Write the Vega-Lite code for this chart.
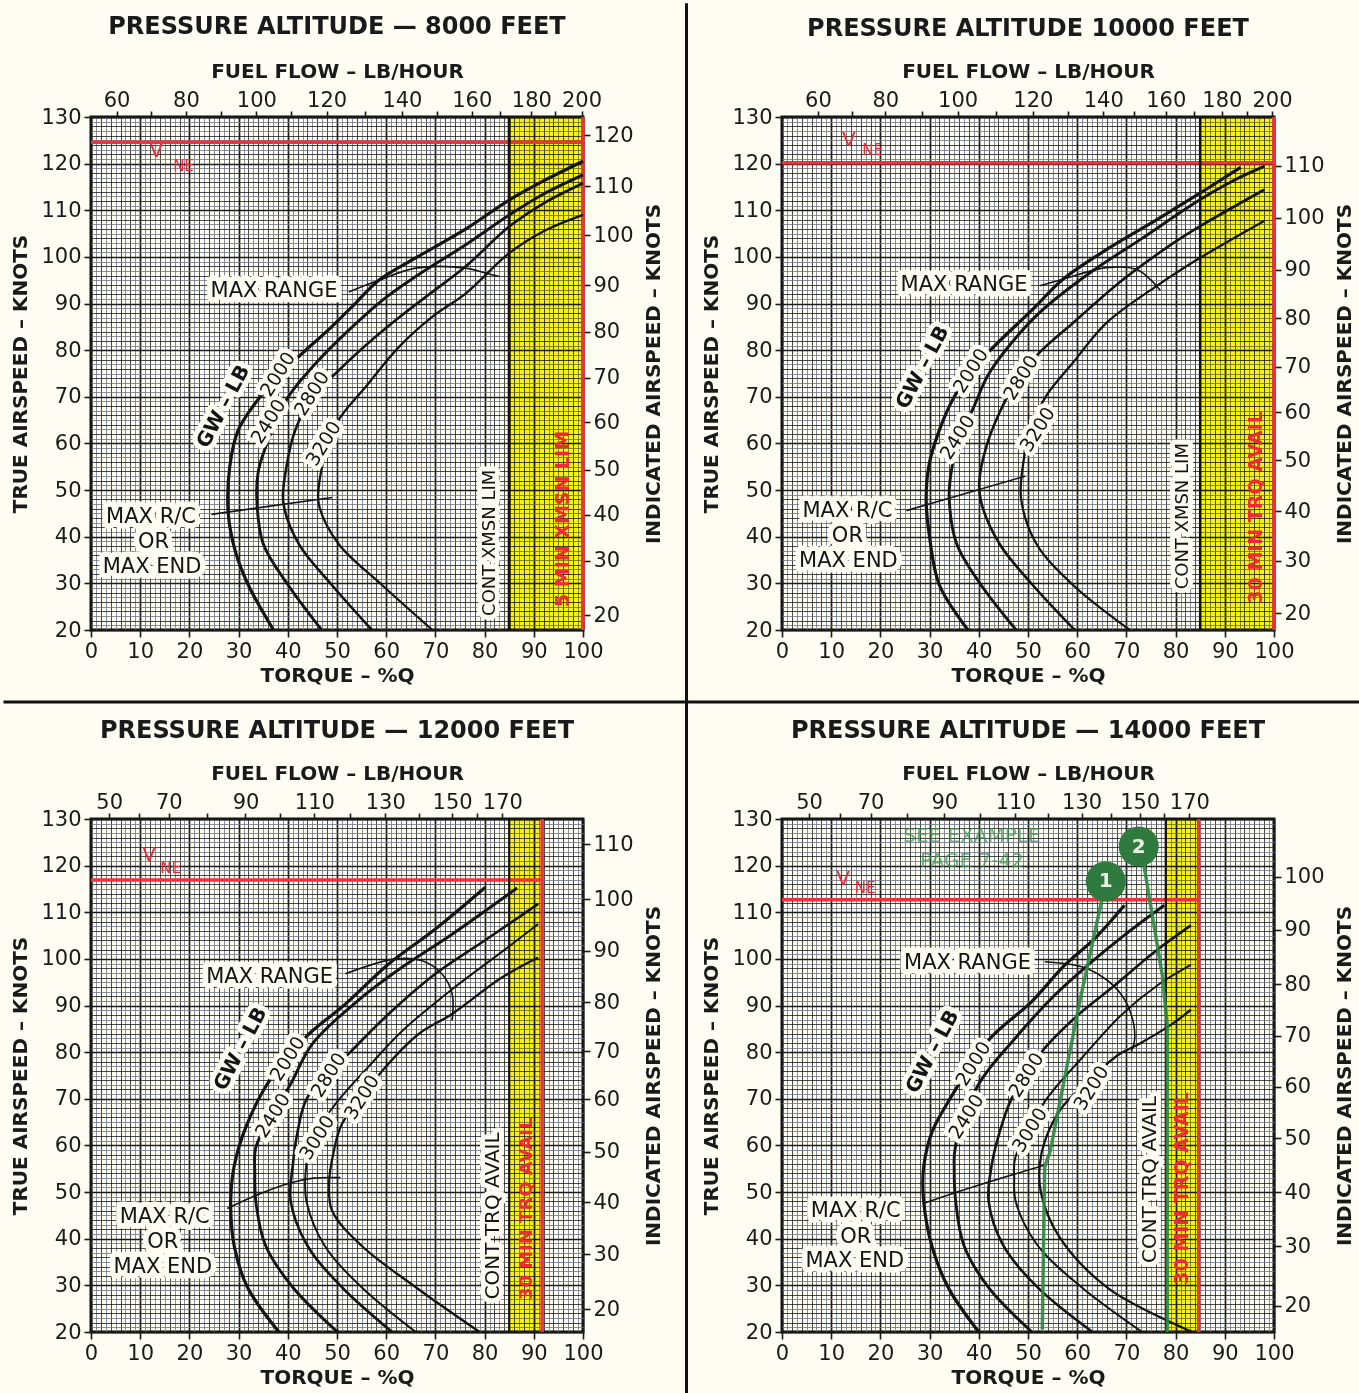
{
"$schema":"https://vega.github.io/schema/vega-lite/v6.json",
"bounds":"flush",
"columns":2,
"spacing":{"row":189,"column":199},
"padding":0,
"datasets":{
"y1":[{"q":85,"q2":100,"t":20,"t2":130}],
"y2":[{"q":85,"q2":100,"t":20,"t2":130}],
"y3":[{"q":85,"q2":91.7,"t":20,"t2":130}],
"y4":[{"q":78,"q2":84.7,"t":20,"t2":130}],
"red1":[{"q":0,"q2":100,"t":124.6,"t2":124.6},{"q":100,"q2":100,"t":20,"t2":130}],
"red2":[{"q":0,"q2":100,"t":120.2,"t2":120.2},{"q":100,"q2":100,"t":20,"t2":130}],
"red3":[{"q":0,"q2":91.7,"t":116.9,"t2":116.9},{"q":91.7,"q2":91.7,"t":20,"t2":130}],
"red4":[{"q":0,"q2":84.7,"t":112.7,"t2":112.7},{"q":84.7,"q2":84.7,"t":20,"t2":130}],
"blk1":[{"q":85,"q2":85,"t":20,"t2":130}],
"blk2":[{"q":85,"q2":85,"t":20,"t2":130}],
"blk3":[{"q":85,"q2":85,"t":20,"t2":130}],
"blk4":[{"q":78,"q2":78,"t":20,"t2":130}],
"sep":[{"q":121.04,"q2":121.04,"t":154.4,"t2":-143.6},{"q":-17.79,"q2":258,"t":4.56,"t2":4.56}],
"c1":[
{"g":"2000","o":0,"q":37.1,"t":20},{"g":"2000","o":1,"q":32,"t":29.6},{"g":"2000","o":2,"q":29.3,"t":37},{"g":"2000","o":3,"q":27.9,"t":45},{"g":"2000","o":4,"q":28.2,"t":55},{"g":"2000","o":5,"q":29.9,"t":62.8},{"g":"2000","o":6,"q":33.3,"t":68.5},{"g":"2000","o":7,"q":37.5,"t":73.8},{"g":"2000","o":8,"q":42.2,"t":78.6},{"g":"2000","o":9,"q":48.9,"t":85},{"g":"2000","o":10,"q":53.7,"t":90},{"g":"2000","o":11,"q":58.5,"t":95},{"g":"2000","o":12,"q":66,"t":99.8},{"g":"2000","o":13,"q":76.2,"t":106},{"g":"2000","o":14,"q":85,"t":112.2},{"g":"2000","o":15,"q":92,"t":116.3},{"g":"2000","o":16,"q":100,"t":120.5},
{"g":"2400","o":0,"q":46.9,"t":20},{"g":"2400","o":1,"q":40.1,"t":29.6},{"g":"2400","o":2,"q":35,"t":38.5},{"g":"2400","o":3,"q":33.7,"t":48},{"g":"2400","o":4,"q":34,"t":54},{"g":"2400","o":5,"q":36.5,"t":62},{"g":"2400","o":6,"q":40.1,"t":70},{"g":"2400","o":7,"q":45.6,"t":77.1},{"g":"2400","o":8,"q":52.4,"t":84.3},{"g":"2400","o":9,"q":59.2,"t":90.7},{"g":"2400","o":10,"q":66,"t":95.8},{"g":"2400","o":11,"q":76,"t":102.5},{"g":"2400","o":12,"q":85,"t":109},{"g":"2400","o":13,"q":92,"t":113.5},{"g":"2400","o":14,"q":100,"t":117.6},
{"g":"2800","o":0,"q":57.1,"t":20},{"g":"2800","o":1,"q":49,"t":29.6},{"g":"2800","o":2,"q":42.2,"t":38.5},{"g":"2800","o":3,"q":39.1,"t":47.3},{"g":"2800","o":4,"q":39.8,"t":55.4},{"g":"2800","o":5,"q":41.5,"t":62.8},{"g":"2800","o":6,"q":45,"t":70},{"g":"2800","o":7,"q":49.7,"t":75},{"g":"2800","o":8,"q":55.8,"t":81},{"g":"2800","o":9,"q":62.6,"t":87},{"g":"2800","o":10,"q":69.4,"t":92.5},{"g":"2800","o":11,"q":76.2,"t":98},{"g":"2800","o":12,"q":85,"t":106.5},{"g":"2800","o":13,"q":92,"t":111.5},{"g":"2800","o":14,"q":100,"t":115.8},
{"g":"3200","o":0,"q":69.4,"t":20},{"g":"3200","o":1,"q":59.2,"t":29.6},{"g":"3200","o":2,"q":50.3,"t":38.5},{"g":"3200","o":3,"q":46.3,"t":47},{"g":"3200","o":4,"q":46.6,"t":53},{"g":"3200","o":5,"q":48,"t":59},{"g":"3200","o":6,"q":50.3,"t":65},{"g":"3200","o":7,"q":55.8,"t":72.1},{"g":"3200","o":8,"q":62.6,"t":80.7},{"g":"3200","o":9,"q":69.4,"t":87.2},{"g":"3200","o":10,"q":76.2,"t":92.2},{"g":"3200","o":11,"q":85,"t":100.8},{"g":"3200","o":12,"q":92,"t":105.5},{"g":"3200","o":13,"q":100,"t":109}],
"c2":[
{"g":"2000","o":0,"q":37.8,"t":20},{"g":"2000","o":1,"q":32,"t":29.6},{"g":"2000","o":2,"q":29.9,"t":40.7},{"g":"2000","o":3,"q":29.3,"t":48},{"g":"2000","o":4,"q":29.9,"t":55.5},{"g":"2000","o":5,"q":32,"t":62.9},{"g":"2000","o":6,"q":35,"t":70},{"g":"2000","o":7,"q":38.5,"t":75.5},{"g":"2000","o":8,"q":42.9,"t":80.6},{"g":"2000","o":9,"q":51,"t":88.8},{"g":"2000","o":10,"q":57.1,"t":95.2},{"g":"2000","o":11,"q":66,"t":101.6},{"g":"2000","o":12,"q":76.2,"t":108},{"g":"2000","o":13,"q":85,"t":113.7},{"g":"2000","o":14,"q":93.2,"t":119.2},
{"g":"2400","o":0,"q":47.6,"t":20},{"g":"2400","o":1,"q":40.5,"t":29.6},{"g":"2400","o":2,"q":35.5,"t":38.5},{"g":"2400","o":3,"q":34,"t":48},{"g":"2400","o":4,"q":34.4,"t":54},{"g":"2400","o":5,"q":36,"t":61},{"g":"2400","o":6,"q":38.8,"t":67.4},{"g":"2400","o":7,"q":41.8,"t":74.5},{"g":"2400","o":8,"q":45.6,"t":80.2},{"g":"2400","o":9,"q":52.4,"t":88.1},{"g":"2400","o":10,"q":62.6,"t":96.6},{"g":"2400","o":11,"q":72.8,"t":103.7},{"g":"2400","o":12,"q":85,"t":112.3},{"g":"2400","o":13,"q":92,"t":116.5},{"g":"2400","o":14,"q":98,"t":119.4},
{"g":"2800","o":0,"q":59.5,"t":20},{"g":"2800","o":1,"q":51,"t":29.6},{"g":"2800","o":2,"q":44.2,"t":38.5},{"g":"2800","o":3,"q":40.5,"t":47.3},{"g":"2800","o":4,"q":40.1,"t":51.8},{"g":"2800","o":5,"q":41.5,"t":59.2},{"g":"2800","o":6,"q":44.2,"t":66.6},{"g":"2800","o":7,"q":47.5,"t":73},{"g":"2800","o":8,"q":51.7,"t":78.8},{"g":"2800","o":9,"q":59.2,"t":85.9},{"g":"2800","o":10,"q":69.4,"t":95.2},{"g":"2800","o":11,"q":79.6,"t":103},{"g":"2800","o":12,"q":85,"t":106.6},{"g":"2800","o":13,"q":98,"t":114.4},
{"g":"3200","o":0,"q":70.7,"t":20},{"g":"3200","o":1,"q":59.2,"t":29.6},{"g":"3200","o":2,"q":51.7,"t":38.5},{"g":"3200","o":3,"q":48.6,"t":48.1},{"g":"3200","o":4,"q":49,"t":55.5},{"g":"3200","o":5,"q":50.5,"t":63},{"g":"3200","o":6,"q":53.7,"t":70.2},{"g":"3200","o":7,"q":59.2,"t":77.4},{"g":"3200","o":8,"q":66,"t":85.9},{"g":"3200","o":9,"q":76.2,"t":93.8},{"g":"3200","o":10,"q":85,"t":99.8},{"g":"3200","o":11,"q":98,"t":107.7}],
"c3":[
{"g":"2000","o":0,"q":38.2,"t":20},{"g":"2000","o":1,"q":31.8,"t":29.6},{"g":"2000","o":2,"q":29.1,"t":38.5},{"g":"2000","o":3,"q":28.4,"t":48},{"g":"2000","o":4,"q":29.1,"t":55.6},{"g":"2000","o":5,"q":31.5,"t":64},{"g":"2000","o":6,"q":36.2,"t":73.8},{"g":"2000","o":7,"q":43.9,"t":83.5},{"g":"2000","o":8,"q":51.7,"t":90.3},{"g":"2000","o":9,"q":60.5,"t":98.9},{"g":"2000","o":10,"q":70,"t":106.4},{"g":"2000","o":11,"q":80.1,"t":115.3},
{"g":"2400","o":0,"q":50.1,"t":20},{"g":"2400","o":1,"q":41,"t":29.6},{"g":"2400","o":2,"q":35.5,"t":38.5},{"g":"2400","o":3,"q":33.5,"t":48},{"g":"2400","o":4,"q":33.3,"t":54},{"g":"2400","o":5,"q":33.5,"t":59.6},{"g":"2400","o":6,"q":36.8,"t":66.5},{"g":"2400","o":7,"q":40.6,"t":73.2},{"g":"2400","o":8,"q":45,"t":81.8},{"g":"2400","o":9,"q":55.1,"t":91.8},{"g":"2400","o":10,"q":63.2,"t":98.2},{"g":"2400","o":11,"q":73.4,"t":105.3},{"g":"2400","o":12,"q":86.6,"t":115.2},
{"g":"2800","o":0,"q":61.2,"t":20},{"g":"2800","o":1,"q":51,"t":29.6},{"g":"2800","o":2,"q":44,"t":38.5},{"g":"2800","o":3,"q":40.6,"t":48},{"g":"2800","o":4,"q":41,"t":55.6},{"g":"2800","o":5,"q":42,"t":63},{"g":"2800","o":6,"q":44,"t":70.3},{"g":"2800","o":7,"q":52.7,"t":80},{"g":"2800","o":8,"q":59.8,"t":87.5},{"g":"2800","o":9,"q":70,"t":96.8},{"g":"2800","o":10,"q":80.1,"t":104},{"g":"2800","o":11,"q":90.9,"t":111.8},
{"g":"3000","o":0,"q":66,"t":20},{"g":"3000","o":1,"q":55,"t":29.6},{"g":"3000","o":2,"q":47.5,"t":38.5},{"g":"3000","o":3,"q":43.8,"t":48},{"g":"3000","o":4,"q":43.6,"t":54},{"g":"3000","o":5,"q":44.8,"t":61},{"g":"3000","o":6,"q":49.7,"t":68.9},{"g":"3000","o":7,"q":56.5,"t":77},{"g":"3000","o":8,"q":63.2,"t":84.5},{"g":"3000","o":9,"q":73.4,"t":93.5},{"g":"3000","o":10,"q":83.5,"t":101.5},{"g":"3000","o":11,"q":90.9,"t":107.5},
{"g":"3200","o":0,"q":79,"t":20},{"g":"3200","o":1,"q":66,"t":29.6},{"g":"3200","o":2,"q":55,"t":38.5},{"g":"3200","o":3,"q":49,"t":46},{"g":"3200","o":4,"q":48.4,"t":52},{"g":"3200","o":5,"q":49.2,"t":58},{"g":"3200","o":6,"q":51,"t":64.6},{"g":"3200","o":7,"q":59.2,"t":76},{"g":"3200","o":8,"q":66.6,"t":83.9},{"g":"3200","o":9,"q":73.4,"t":88.2},{"g":"3200","o":10,"q":83.5,"t":96},{"g":"3200","o":11,"q":90.9,"t":100.3}],
"c4":[
{"g":"2000","o":0,"q":40,"t":20},{"g":"2000","o":1,"q":33.9,"t":29.3},{"g":"2000","o":2,"q":30.5,"t":38.3},{"g":"2000","o":3,"q":28.8,"t":48},{"g":"2000","o":4,"q":28.8,"t":55.4},{"g":"2000","o":5,"q":30.5,"t":62.9},{"g":"2000","o":6,"q":33.9,"t":69.6},{"g":"2000","o":7,"q":38,"t":76.5},{"g":"2000","o":8,"q":42.6,"t":83.3},{"g":"2000","o":9,"q":50.7,"t":90.8},{"g":"2000","o":10,"q":57.5,"t":98.7},{"g":"2000","o":11,"q":63.6,"t":104.4},{"g":"2000","o":12,"q":69.6,"t":111.5},
{"g":"2400","o":0,"q":50.8,"t":20},{"g":"2400","o":1,"q":42,"t":29.5},{"g":"2400","o":2,"q":37,"t":38.5},{"g":"2400","o":3,"q":35.3,"t":48},{"g":"2400","o":4,"q":35,"t":55},{"g":"2400","o":5,"q":35.2,"t":59.4},{"g":"2400","o":6,"q":39.9,"t":73},{"g":"2400","o":7,"q":47.4,"t":83},{"g":"2400","o":8,"q":55.5,"t":92.3},{"g":"2400","o":9,"q":62.2,"t":98.7},{"g":"2400","o":10,"q":69.6,"t":105.1},{"g":"2400","o":11,"q":77.7,"t":111.5},
{"g":"2800","o":0,"q":63.1,"t":20},{"g":"2800","o":1,"q":52,"t":29.5},{"g":"2800","o":2,"q":45,"t":38.5},{"g":"2800","o":3,"q":42,"t":48},{"g":"2800","o":4,"q":42.5,"t":55},{"g":"2800","o":5,"q":44,"t":62},{"g":"2800","o":6,"q":46.7,"t":70.1},{"g":"2800","o":7,"q":52.8,"t":80.1},{"g":"2800","o":8,"q":60.2,"t":88},{"g":"2800","o":9,"q":66.9,"t":93.7},{"g":"2800","o":10,"q":75.7,"t":101.5},{"g":"2800","o":11,"q":83.1,"t":107.2},
{"g":"3000","o":0,"q":73.2,"t":20},{"g":"3000","o":1,"q":61,"t":29.5},{"g":"3000","o":2,"q":52,"t":38.5},{"g":"3000","o":3,"q":47.5,"t":48},{"g":"3000","o":4,"q":47.2,"t":53},{"g":"3000","o":5,"q":47.4,"t":57.3},{"g":"3000","o":6,"q":53.4,"t":69.4},{"g":"3000","o":7,"q":60.9,"t":78.7},{"g":"3000","o":8,"q":69,"t":88},{"g":"3000","o":9,"q":76.4,"t":94.4},{"g":"3000","o":10,"q":83.1,"t":98.7},
{"g":"3200","o":0,"q":83.4,"t":20},{"g":"3200","o":1,"q":66.4,"t":29.3},{"g":"3200","o":2,"q":56.3,"t":40.5},{"g":"3200","o":3,"q":52.6,"t":50},{"g":"3200","o":4,"q":52.4,"t":55.9},{"g":"3200","o":5,"q":53.4,"t":60.9},{"g":"3200","o":6,"q":56.8,"t":68},{"g":"3200","o":7,"q":62,"t":73.5},{"g":"3200","o":8,"q":68.3,"t":79.4},{"g":"3200","o":9,"q":72.3,"t":81.6},{"g":"3200","o":10,"q":79.1,"t":85.9},{"g":"3200","o":11,"q":83.1,"t":89.1}],
"m1":[{"k":"range","o":0,"q":52.4,"t":92.5},{"k":"range","o":1,"q":58.5,"t":95},{"k":"range","o":2,"q":66,"t":97.6},{"k":"range","o":3,"q":76.2,"t":97.6},{"k":"range","o":4,"q":80.3,"t":96.5},{"k":"range","o":5,"q":83,"t":95.8},{"k":"rc","o":0,"q":24.5,"t":44.8},{"k":"rc","o":1,"q":49,"t":48.4}],
"m2":[{"k":"range","o":0,"q":52.4,"t":93.8},{"k":"range","o":1,"q":57.1,"t":95.2},{"k":"range","o":2,"q":66,"t":97.7},{"k":"range","o":3,"q":72.1,"t":97.3},{"k":"range","o":4,"q":75.5,"t":94.5},{"k":"range","o":5,"q":76.9,"t":92.8},{"k":"rc","o":0,"q":25.3,"t":45.6},{"k":"rc","o":1,"q":49.5,"t":53}],
"m3":[{"k":"range","o":0,"q":51.7,"t":96.8},{"k":"range","o":1,"q":61.9,"t":100},{"k":"range","o":2,"q":67.3,"t":99.6},{"k":"range","o":3,"q":71.3,"t":96.8},{"k":"range","o":4,"q":73.4,"t":92.5},{"k":"range","o":5,"q":73.4,"t":86.8},{"k":"rc","o":0,"q":27.7,"t":46.5},{"k":"rc","o":1,"q":34,"t":49.5},{"k":"rc","o":2,"q":40,"t":51.8},{"k":"rc","o":3,"q":45.3,"t":53},{"k":"rc","o":4,"q":50.7,"t":53.1}],
"m4":[{"k":"range","o":0,"q":53.4,"t":99.4},{"k":"range","o":1,"q":60.9,"t":98.3},{"k":"range","o":2,"q":65.6,"t":95.8},{"k":"range","o":3,"q":69,"t":92.3},{"k":"range","o":4,"q":71,"t":88},{"k":"range","o":5,"q":71.7,"t":83},{"k":"range","o":6,"q":71,"t":80.1},{"k":"rc","o":0,"q":28.6,"t":47.5},{"k":"rc","o":1,"q":40,"t":51.5},{"k":"rc","o":2,"q":53.5,"t":55.8}],
"h1":[{"s":"MAX RANGE","q":37.2,"t":92.6},{"s":"MAX R/C","q":12.2,"t":44.3},{"s":"OR","q":12.7,"t":38.9},{"s":"MAX END","q":12.4,"t":33.5}],
"h2":[{"s":"MAX RANGE","q":37,"t":94},{"s":"MAX R/C","q":13.3,"t":45.5},{"s":"OR","q":13.3,"t":40.1},{"s":"MAX END","q":13.5,"t":34.8}],
"h3":[{"s":"MAX RANGE","q":36.3,"t":96.1},{"s":"MAX R/C","q":15,"t":44.7},{"s":"OR","q":14.6,"t":39.3},{"s":"MAX END","q":14.6,"t":33.9}],
"h4":[{"s":"MAX RANGE","q":37.7,"t":99.2},{"s":"MAX R/C","q":15,"t":45.9},{"s":"OR","q":15,"t":40.3},{"s":"MAX END","q":14.8,"t":35.2}],
"r1":[{"s":"2000","q":38,"t":74.8},{"s":"2400","q":36.1,"t":64.7},{"s":"2800","q":44.9,"t":70.7},{"s":"3200","q":47.3,"t":60}],
"r2":[{"s":"2000","q":38.4,"t":75.6},{"s":"2400","q":35.7,"t":61.3},{"s":"2800","q":48.6,"t":74.1},{"s":"3200","q":52,"t":63}],
"r3":[{"s":"2000","q":40,"t":78.6},{"s":"2400","q":37,"t":66.4},{"s":"2800","q":48.3,"t":75.1},{"s":"3000","q":46,"t":61.7},{"s":"3200","q":55.1,"t":70.3}],
"r4":[{"s":"2000","q":38.9,"t":77.5},{"s":"2400","q":37.5,"t":66.2},{"s":"2800","q":49.7,"t":75.1},{"s":"3000","q":50.4,"t":63.3},{"s":"3200","q":62.9,"t":72.3}],
"gw1":[{"s":"GW – LB","q":26.9,"t":67.9}],
"gw2":[{"s":"GW – LB","q":28.6,"t":76.3}],
"gw3":[{"s":"GW – LB","q":30.4,"t":80.7}],
"gw4":[{"s":"GW – LB","q":30.6,"t":80.1}],
"v1":[{"s":"CONT XMSN LIM","q":81,"t":38.7}],
"v2":[{"s":"CONT XMSN LIM","q":81.6,"t":44.4}],
"v3":[{"s":"CONT TRQ AVAIL","q":81.7,"t":44.9}],
"v4":[{"s":"CONT TRQ AVAIL","q":74.7,"t":52.7}],
"vr1":[{"s":"5 MIN XMSN LIM","q":96,"t":43.8}],
"vr2":[{"s":"30 MIN TRQ AVAIL","q":96.3,"t":46.3}],
"vr3":[{"s":"30 MIN TRQ AVAIL","q":88.6,"t":46.4}],
"vr4":[{"s":"30 MIN TRQ AVAIL","q":81.4,"t":50.8}],
"vn1":[{"s":"V","q":13.3,"t":122.7}],"ne1":[{"s":"NE","q":18.8,"t":119.5}],
"vn2":[{"s":"V","q":13.6,"t":125.1}],"ne2":[{"s":"NE","q":18.4,"t":123}],
"vn3":[{"s":"V","q":11.8,"t":122.3}],"ne3":[{"s":"NE","q":16.2,"t":119.4}],
"vn4":[{"s":"V","q":12.4,"t":117.2}],"ne4":[{"s":"NE","q":16.9,"t":115.2}],
"gl4":[{"k":"a","o":0,"q":65.5,"t":115},{"k":"a","o":1,"q":60.5,"t":90.8},{"k":"a","o":2,"q":54.5,"t":58.7},{"k":"a","o":3,"q":53.4,"t":55.5},{"k":"a","o":4,"q":52.9,"t":20.5},{"k":"b","o":0,"q":73.5,"t":120.5},{"k":"b","o":1,"q":77.3,"t":96.5},{"k":"b","o":2,"q":78.3,"t":86},{"k":"b","o":3,"q":78.3,"t":20}],
"gc4":[{"s":"1","q":65.8,"t":116.6},{"s":"2","q":72.5,"t":124.1}],
"gt4":[{"s":"SEE EXAMPLE","q":38.6,"t":126.3},{"s":"PAGE 7-42","q":38.6,"t":121.1}]
},
"concat":[
{
"width":492,"height":513,
"title":{"text":"PRESSURE ALTITUDE — 8000 FEET","offset":-37},
"resolve":{"axis":{"x":"independent","y":"independent"}},
"layer":[
{"data":{"name":"y1"},"mark":{"type":"rect","color":"#f8f31c","blend":"multiply"},
"encoding":{
"x":{"field":"q","type":"quantitative","scale":{"domain":[0,100],"nice":false,"zero":false},"axis":{"orient":"bottom","title":"TORQUE – %Q","tickCount":100,"grid":true,"gridColor":{"condition":{"test":"datum.value % 2 === 0","value":"#1c1c1c"},"value":"#6e7486"},"gridWidth":{"condition":{"test":"datum.value % 10 === 0","value":1.7},"value":0.8},"labelExpr":"datum.value % 10 === 0 ? datum.label : ''","tickOpacity":{"condition":{"test":"datum.value % 10 === 0","value":1},"value":0},"domain":false,"labelOverlap":false,"labelFlush":false,"labelBound":false}},
"x2":{"field":"q2"},
"y":{"field":"t","type":"quantitative","scale":{"domain":[20,130],"nice":false,"zero":false},"axis":{"orient":"left","title":"TRUE AIRSPEED – KNOTS","titlePadding":10,"tickCount":110,"grid":true,"gridColor":{"condition":{"test":"datum.value % 2 === 0","value":"#1c1c1c"},"value":"#6e7486"},"gridWidth":{"condition":{"test":"datum.value % 10 === 0","value":1.7},"value":0.8},"labelExpr":"datum.value % 10 === 0 ? datum.label : ''","tickOpacity":{"condition":{"test":"datum.value % 10 === 0","value":1},"value":0},"domain":false,"labelOverlap":false,"labelFlush":false,"labelBound":false}},
"y2":{"field":"t2"}}},
{"data":{"name":"red1"},"mark":{"type":"rule","color":"#f03040","strokeWidth":3.5},
"encoding":{"x":{"field":"q","type":"quantitative","scale":{"domain":[0,100]},"axis":null},"x2":{"field":"q2"},"y":{"field":"t","type":"quantitative","scale":{"domain":[20,130]},"axis":null},"y2":{"field":"t2"}}},
{"data":{"name":"blk1"},"mark":{"type":"rule","color":"#111","strokeWidth":3},
"encoding":{"x":{"field":"q","type":"quantitative","scale":{"domain":[0,100]},"axis":null},"x2":{"field":"q2"},"y":{"field":"t","type":"quantitative","scale":{"domain":[20,130]},"axis":null},"y2":{"field":"t2"}}},
{"data":{"name":"sep"},"mark":{"type":"rule","color":"#111","strokeWidth":3},
"encoding":{"x":{"field":"q","type":"quantitative","scale":{"domain":[0,100]},"axis":null},"x2":{"field":"q2"},"y":{"field":"t","type":"quantitative","scale":{"domain":[20,130]},"axis":null},"y2":{"field":"t2"}}},
{"data":{"name":"c1"},"mark":{"type":"line","color":"#141414","interpolate":"catmull-rom"},
"encoding":{
"x":{"field":"q","type":"quantitative","scale":{"domain":[0,100]},"axis":{"orient":"top","title":"FUEL FLOW – LB/HOUR","titlePadding":8,"values":[5.2,12.2,19.3,26.5,33.6,40.7,47.9,55.6,63.2,70.3,77.4,83.2,89.5,94.4,99.7],"labelExpr":"indexof([5.2,19.3,33.6,47.9,63.2,77.4,89.5,99.7], datum.value) < 0 ? '' : ['60','80','100','120','140','160','180','200'][indexof([5.2,19.3,33.6,47.9,63.2,77.4,89.5,99.7], datum.value)]","grid":false,"domain":false,"tickSize":6,"labelPadding":1,"labelOverlap":false,"labelFlush":false,"labelBound":false}},
"y":{"field":"t","type":"quantitative","scale":{"domain":[20,130]},"axis":{"orient":"right","title":"INDICATED AIRSPEED – KNOTS","titleAngle":270,"titleBaseline":"top","titlePadding":10,"values":[126.1,115.2,104.6,93.9,84,74.1,64.5,54.4,44.7,34.8,23.2],"labelExpr":"['120','110','100','90','80','70','60','50','40','30','20'][indexof([126.1,115.2,104.6,93.9,84,74.1,64.5,54.4,44.7,34.8,23.2], datum.value)]","grid":false,"domain":false,"labelOverlap":false,"labelFlush":false,"labelBound":false}},
"detail":{"field":"g"},"order":{"field":"o","type":"quantitative"},
"strokeWidth":{"field":"g","type":"ordinal","scale":{"domain":["2000","2400","2800","3200"],"range":[3.2,2,3.2,1.4]},"legend":null}}},
{"data":{"name":"m1"},"mark":{"type":"line","color":"#141414","strokeWidth":1.6,"interpolate":"catmull-rom"},
"encoding":{"x":{"field":"q","type":"quantitative","scale":{"domain":[0,100]},"axis":null},"y":{"field":"t","type":"quantitative","scale":{"domain":[20,130]},"axis":null},"detail":{"field":"k"},"order":{"field":"o","type":"quantitative"}}},
{"data":{"name":"h1"},"mark":{"type":"text","fontSize":21,"fill":"#fdfdf3","stroke":"#fdfdf3","strokeWidth":11,"strokeJoin":"round"},
"encoding":{"x":{"field":"q","type":"quantitative","scale":{"domain":[0,100]},"axis":null},"y":{"field":"t","type":"quantitative","scale":{"domain":[20,130]},"axis":null},"text":{"field":"s"}}},
{"data":{"name":"h1"},"mark":{"type":"text","fontSize":21,"color":"#141414"},
"encoding":{"x":{"field":"q","type":"quantitative","scale":{"domain":[0,100]},"axis":null},"y":{"field":"t","type":"quantitative","scale":{"domain":[20,130]},"axis":null},"text":{"field":"s"}}},
{"data":{"name":"r1"},"mark":{"type":"text","fontSize":19,"angle":-58,"fill":"#fdfdf3","stroke":"#fdfdf3","strokeWidth":9,"strokeJoin":"round"},
"encoding":{"x":{"field":"q","type":"quantitative","scale":{"domain":[0,100]},"axis":null},"y":{"field":"t","type":"quantitative","scale":{"domain":[20,130]},"axis":null},"text":{"field":"s"}}},
{"data":{"name":"r1"},"mark":{"type":"text","fontSize":19,"angle":-58,"color":"#141414"},
"encoding":{"x":{"field":"q","type":"quantitative","scale":{"domain":[0,100]},"axis":null},"y":{"field":"t","type":"quantitative","scale":{"domain":[20,130]},"axis":null},"text":{"field":"s"}}},
{"data":{"name":"gw1"},"mark":{"type":"text","fontSize":20,"fontWeight":"bold","angle":-62,"fill":"#fdfdf3","stroke":"#fdfdf3","strokeWidth":10,"strokeJoin":"round"},
"encoding":{"x":{"field":"q","type":"quantitative","scale":{"domain":[0,100]},"axis":null},"y":{"field":"t","type":"quantitative","scale":{"domain":[20,130]},"axis":null},"text":{"field":"s"}}},
{"data":{"name":"gw1"},"mark":{"type":"text","fontSize":20,"fontWeight":"bold","angle":-62,"color":"#141414"},
"encoding":{"x":{"field":"q","type":"quantitative","scale":{"domain":[0,100]},"axis":null},"y":{"field":"t","type":"quantitative","scale":{"domain":[20,130]},"axis":null},"text":{"field":"s"}}},
{"data":{"name":"v1"},"mark":{"type":"text","fontSize":18,"angle":-90,"fill":"#fdfdf3","stroke":"#fdfdf3","strokeWidth":10,"strokeJoin":"round"},
"encoding":{"x":{"field":"q","type":"quantitative","scale":{"domain":[0,100]},"axis":null},"y":{"field":"t","type":"quantitative","scale":{"domain":[20,130]},"axis":null},"text":{"field":"s"}}},
{"data":{"name":"v1"},"mark":{"type":"text","fontSize":18,"angle":-90,"color":"#141414"},
"encoding":{"x":{"field":"q","type":"quantitative","scale":{"domain":[0,100]},"axis":null},"y":{"field":"t","type":"quantitative","scale":{"domain":[20,130]},"axis":null},"text":{"field":"s"}}},
{"data":{"name":"vr1"},"mark":{"type":"text","fontSize":19,"fontWeight":"bold","angle":-90,"color":"#f02838"},
"encoding":{"x":{"field":"q","type":"quantitative","scale":{"domain":[0,100]},"axis":null},"y":{"field":"t","type":"quantitative","scale":{"domain":[20,130]},"axis":null},"text":{"field":"s"}}},
{"data":{"name":"vn1"},"mark":{"type":"text","fontSize":20,"color":"#f02838"},
"encoding":{"x":{"field":"q","type":"quantitative","scale":{"domain":[0,100]},"axis":null},"y":{"field":"t","type":"quantitative","scale":{"domain":[20,130]},"axis":null},"text":{"field":"s"}}},
{"data":{"name":"ne1"},"mark":{"type":"text","fontSize":15,"color":"#f02838"},
"encoding":{"x":{"field":"q","type":"quantitative","scale":{"domain":[0,100]},"axis":null},"y":{"field":"t","type":"quantitative","scale":{"domain":[20,130]},"axis":null},"text":{"field":"s"}}}
]},
{
"width":492,"height":513,
"title":{"text":"PRESSURE ALTITUDE 10000 FEET","offset":20},
"resolve":{"axis":{"x":"independent","y":"independent"}},
"layer":[
{"data":{"name":"y2"},"mark":{"type":"rect","color":"#f8f31c","blend":"multiply"},
"encoding":{
"x":{"field":"q","type":"quantitative","scale":{"domain":[0,100],"nice":false,"zero":false},"axis":{"orient":"bottom","title":"TORQUE – %Q","tickCount":100,"grid":true,"gridColor":{"condition":{"test":"datum.value % 2 === 0","value":"#1c1c1c"},"value":"#6e7486"},"gridWidth":{"condition":{"test":"datum.value % 10 === 0","value":1.7},"value":0.8},"labelExpr":"datum.value % 10 === 0 ? datum.label : ''","tickOpacity":{"condition":{"test":"datum.value % 10 === 0","value":1},"value":0},"domain":false,"labelOverlap":false,"labelFlush":false,"labelBound":false}},
"x2":{"field":"q2"},
"y":{"field":"t","type":"quantitative","scale":{"domain":[20,130],"nice":false,"zero":false},"axis":{"orient":"left","title":"TRUE AIRSPEED – KNOTS","titlePadding":10,"tickCount":110,"grid":true,"gridColor":{"condition":{"test":"datum.value % 2 === 0","value":"#1c1c1c"},"value":"#6e7486"},"gridWidth":{"condition":{"test":"datum.value % 10 === 0","value":1.7},"value":0.8},"labelExpr":"datum.value % 10 === 0 ? datum.label : ''","tickOpacity":{"condition":{"test":"datum.value % 10 === 0","value":1},"value":0},"domain":false,"labelOverlap":false,"labelFlush":false,"labelBound":false}},
"y2":{"field":"t2"}}},
{"data":{"name":"red2"},"mark":{"type":"rule","color":"#f03040","strokeWidth":3.5},
"encoding":{"x":{"field":"q","type":"quantitative","scale":{"domain":[0,100]},"axis":null},"x2":{"field":"q2"},"y":{"field":"t","type":"quantitative","scale":{"domain":[20,130]},"axis":null},"y2":{"field":"t2"}}},
{"data":{"name":"blk2"},"mark":{"type":"rule","color":"#111","strokeWidth":2.5},
"encoding":{"x":{"field":"q","type":"quantitative","scale":{"domain":[0,100]},"axis":null},"x2":{"field":"q2"},"y":{"field":"t","type":"quantitative","scale":{"domain":[20,130]},"axis":null},"y2":{"field":"t2"}}},
{"data":{"name":"c2"},"mark":{"type":"line","color":"#141414","interpolate":"catmull-rom"},
"encoding":{
"x":{"field":"q","type":"quantitative","scale":{"domain":[0,100]},"axis":{"orient":"top","title":"FUEL FLOW – LB/HOUR","titlePadding":8,"values":[7.3,14.2,21,28.4,35.7,43.4,51,58.2,65.3,71.6,78,83.7,89.4,94.5,99.6],"labelExpr":"indexof([7.3,21,35.7,51,65.3,78,89.4,99.6], datum.value) < 0 ? '' : ['60','80','100','120','140','160','180','200'][indexof([7.3,21,35.7,51,65.3,78,89.4,99.6], datum.value)]","grid":false,"domain":false,"tickSize":6,"labelPadding":1,"labelOverlap":false,"labelFlush":false,"labelBound":false}},
"y":{"field":"t","type":"quantitative","scale":{"domain":[20,130]},"axis":{"orient":"right","title":"INDICATED AIRSPEED – KNOTS","titleAngle":270,"titleBaseline":"top","titlePadding":10,"values":[119.5,108.4,97.3,86.8,76.5,66.7,56.4,45.5,34.8,23.6],"labelExpr":"['110','100','90','80','70','60','50','40','30','20'][indexof([119.5,108.4,97.3,86.8,76.5,66.7,56.4,45.5,34.8,23.6], datum.value)]","grid":false,"domain":false,"labelOverlap":false,"labelFlush":false,"labelBound":false}},
"detail":{"field":"g"},"order":{"field":"o","type":"quantitative"},
"strokeWidth":{"field":"g","type":"ordinal","scale":{"domain":["2000","2400","2800","3200"],"range":[3.2,2,3.2,1.4]},"legend":null}}},
{"data":{"name":"m2"},"mark":{"type":"line","color":"#141414","strokeWidth":1.6,"interpolate":"catmull-rom"},
"encoding":{"x":{"field":"q","type":"quantitative","scale":{"domain":[0,100]},"axis":null},"y":{"field":"t","type":"quantitative","scale":{"domain":[20,130]},"axis":null},"detail":{"field":"k"},"order":{"field":"o","type":"quantitative"}}},
{"data":{"name":"h2"},"mark":{"type":"text","fontSize":21,"fill":"#fdfdf3","stroke":"#fdfdf3","strokeWidth":11,"strokeJoin":"round"},
"encoding":{"x":{"field":"q","type":"quantitative","scale":{"domain":[0,100]},"axis":null},"y":{"field":"t","type":"quantitative","scale":{"domain":[20,130]},"axis":null},"text":{"field":"s"}}},
{"data":{"name":"h2"},"mark":{"type":"text","fontSize":21,"color":"#141414"},
"encoding":{"x":{"field":"q","type":"quantitative","scale":{"domain":[0,100]},"axis":null},"y":{"field":"t","type":"quantitative","scale":{"domain":[20,130]},"axis":null},"text":{"field":"s"}}},
{"data":{"name":"r2"},"mark":{"type":"text","fontSize":19,"angle":-58,"fill":"#fdfdf3","stroke":"#fdfdf3","strokeWidth":9,"strokeJoin":"round"},
"encoding":{"x":{"field":"q","type":"quantitative","scale":{"domain":[0,100]},"axis":null},"y":{"field":"t","type":"quantitative","scale":{"domain":[20,130]},"axis":null},"text":{"field":"s"}}},
{"data":{"name":"r2"},"mark":{"type":"text","fontSize":19,"angle":-58,"color":"#141414"},
"encoding":{"x":{"field":"q","type":"quantitative","scale":{"domain":[0,100]},"axis":null},"y":{"field":"t","type":"quantitative","scale":{"domain":[20,130]},"axis":null},"text":{"field":"s"}}},
{"data":{"name":"gw2"},"mark":{"type":"text","fontSize":20,"fontWeight":"bold","angle":-62,"fill":"#fdfdf3","stroke":"#fdfdf3","strokeWidth":10,"strokeJoin":"round"},
"encoding":{"x":{"field":"q","type":"quantitative","scale":{"domain":[0,100]},"axis":null},"y":{"field":"t","type":"quantitative","scale":{"domain":[20,130]},"axis":null},"text":{"field":"s"}}},
{"data":{"name":"gw2"},"mark":{"type":"text","fontSize":20,"fontWeight":"bold","angle":-62,"color":"#141414"},
"encoding":{"x":{"field":"q","type":"quantitative","scale":{"domain":[0,100]},"axis":null},"y":{"field":"t","type":"quantitative","scale":{"domain":[20,130]},"axis":null},"text":{"field":"s"}}},
{"data":{"name":"v2"},"mark":{"type":"text","fontSize":18,"angle":-90,"fill":"#fdfdf3","stroke":"#fdfdf3","strokeWidth":10,"strokeJoin":"round"},
"encoding":{"x":{"field":"q","type":"quantitative","scale":{"domain":[0,100]},"axis":null},"y":{"field":"t","type":"quantitative","scale":{"domain":[20,130]},"axis":null},"text":{"field":"s"}}},
{"data":{"name":"v2"},"mark":{"type":"text","fontSize":18,"angle":-90,"color":"#141414"},
"encoding":{"x":{"field":"q","type":"quantitative","scale":{"domain":[0,100]},"axis":null},"y":{"field":"t","type":"quantitative","scale":{"domain":[20,130]},"axis":null},"text":{"field":"s"}}},
{"data":{"name":"vr2"},"mark":{"type":"text","fontSize":19,"fontWeight":"bold","angle":-90,"color":"#f02838"},
"encoding":{"x":{"field":"q","type":"quantitative","scale":{"domain":[0,100]},"axis":null},"y":{"field":"t","type":"quantitative","scale":{"domain":[20,130]},"axis":null},"text":{"field":"s"}}},
{"data":{"name":"vn2"},"mark":{"type":"text","fontSize":20,"color":"#f02838"},
"encoding":{"x":{"field":"q","type":"quantitative","scale":{"domain":[0,100]},"axis":null},"y":{"field":"t","type":"quantitative","scale":{"domain":[20,130]},"axis":null},"text":{"field":"s"}}},
{"data":{"name":"ne2"},"mark":{"type":"text","fontSize":15,"color":"#f02838"},
"encoding":{"x":{"field":"q","type":"quantitative","scale":{"domain":[0,100]},"axis":null},"y":{"field":"t","type":"quantitative","scale":{"domain":[20,130]},"axis":null},"text":{"field":"s"}}}
]},
{
"width":492,"height":513,
"title":{"text":"PRESSURE ALTITUDE — 12000 FEET","offset":20},
"resolve":{"axis":{"x":"independent","y":"independent"}},
"layer":[
{"data":{"name":"y3"},"mark":{"type":"rect","color":"#f8f31c","blend":"multiply"},
"encoding":{
"x":{"field":"q","type":"quantitative","scale":{"domain":[0,100],"nice":false,"zero":false},"axis":{"orient":"bottom","title":"TORQUE – %Q","tickCount":100,"grid":true,"gridColor":{"condition":{"test":"datum.value % 2 === 0","value":"#1c1c1c"},"value":"#6e7486"},"gridWidth":{"condition":{"test":"datum.value % 10 === 0","value":1.7},"value":0.8},"labelExpr":"datum.value % 10 === 0 ? datum.label : ''","tickOpacity":{"condition":{"test":"datum.value % 10 === 0","value":1},"value":0},"domain":false,"labelOverlap":false,"labelFlush":false,"labelBound":false}},
"x2":{"field":"q2"},
"y":{"field":"t","type":"quantitative","scale":{"domain":[20,130],"nice":false,"zero":false},"axis":{"orient":"left","title":"TRUE AIRSPEED – KNOTS","titlePadding":10,"tickCount":110,"grid":true,"gridColor":{"condition":{"test":"datum.value % 2 === 0","value":"#1c1c1c"},"value":"#6e7486"},"gridWidth":{"condition":{"test":"datum.value % 10 === 0","value":1.7},"value":0.8},"labelExpr":"datum.value % 10 === 0 ? datum.label : ''","tickOpacity":{"condition":{"test":"datum.value % 10 === 0","value":1},"value":0},"domain":false,"labelOverlap":false,"labelFlush":false,"labelBound":false}},
"y2":{"field":"t2"}}},
{"data":{"name":"red3"},"mark":{"type":"rule","color":"#f03040","strokeWidth":3.5},
"encoding":{"x":{"field":"q","type":"quantitative","scale":{"domain":[0,100]},"axis":null},"x2":{"field":"q2"},"y":{"field":"t","type":"quantitative","scale":{"domain":[20,130]},"axis":null},"y2":{"field":"t2"}}},
{"data":{"name":"blk3"},"mark":{"type":"rule","color":"#111","strokeWidth":2.2},
"encoding":{"x":{"field":"q","type":"quantitative","scale":{"domain":[0,100]},"axis":null},"x2":{"field":"q2"},"y":{"field":"t","type":"quantitative","scale":{"domain":[20,130]},"axis":null},"y2":{"field":"t2"}}},
{"data":{"name":"c3"},"mark":{"type":"line","color":"#141414","interpolate":"catmull-rom"},
"encoding":{
"x":{"field":"q","type":"quantitative","scale":{"domain":[0,100]},"axis":{"orient":"top","title":"FUEL FLOW – LB/HOUR","titlePadding":8,"values":[3.7,9.7,15.8,23.6,31.4,38.4,45.4,52.6,59.8,66.6,73.4,78.5,83.6],"labelExpr":"indexof([3.7,15.8,31.4,45.4,59.8,73.4,83.6], datum.value) < 0 ? '' : ['50','70','90','110','130','150','170'][indexof([3.7,15.8,31.4,45.4,59.8,73.4,83.6], datum.value)]","grid":false,"domain":false,"tickSize":6,"labelPadding":1,"labelOverlap":false,"labelFlush":false,"labelBound":false}},
"y":{"field":"t","type":"quantitative","scale":{"domain":[20,130]},"axis":{"orient":"right","title":"INDICATED AIRSPEED – KNOTS","titleAngle":270,"titleBaseline":"top","titlePadding":10,"values":[124.6,112.8,101.7,90.7,80.2,69.9,58.6,47.8,36.7,24.9],"labelExpr":"['110','100','90','80','70','60','50','40','30','20'][indexof([124.6,112.8,101.7,90.7,80.2,69.9,58.6,47.8,36.7,24.9], datum.value)]","grid":false,"domain":false,"labelOverlap":false,"labelFlush":false,"labelBound":false}},
"detail":{"field":"g"},"order":{"field":"o","type":"quantitative"},
"strokeWidth":{"field":"g","type":"ordinal","scale":{"domain":["2000","2400","2800","3000","3200"],"range":[3,2.2,2.5,2,3.2]},"legend":null}}},
{"data":{"name":"m3"},"mark":{"type":"line","color":"#141414","strokeWidth":1.6,"interpolate":"catmull-rom"},
"encoding":{"x":{"field":"q","type":"quantitative","scale":{"domain":[0,100]},"axis":null},"y":{"field":"t","type":"quantitative","scale":{"domain":[20,130]},"axis":null},"detail":{"field":"k"},"order":{"field":"o","type":"quantitative"}}},
{"data":{"name":"h3"},"mark":{"type":"text","fontSize":21,"fill":"#fdfdf3","stroke":"#fdfdf3","strokeWidth":11,"strokeJoin":"round"},
"encoding":{"x":{"field":"q","type":"quantitative","scale":{"domain":[0,100]},"axis":null},"y":{"field":"t","type":"quantitative","scale":{"domain":[20,130]},"axis":null},"text":{"field":"s"}}},
{"data":{"name":"h3"},"mark":{"type":"text","fontSize":21,"color":"#141414"},
"encoding":{"x":{"field":"q","type":"quantitative","scale":{"domain":[0,100]},"axis":null},"y":{"field":"t","type":"quantitative","scale":{"domain":[20,130]},"axis":null},"text":{"field":"s"}}},
{"data":{"name":"r3"},"mark":{"type":"text","fontSize":19,"angle":-58,"fill":"#fdfdf3","stroke":"#fdfdf3","strokeWidth":9,"strokeJoin":"round"},
"encoding":{"x":{"field":"q","type":"quantitative","scale":{"domain":[0,100]},"axis":null},"y":{"field":"t","type":"quantitative","scale":{"domain":[20,130]},"axis":null},"text":{"field":"s"}}},
{"data":{"name":"r3"},"mark":{"type":"text","fontSize":19,"angle":-58,"color":"#141414"},
"encoding":{"x":{"field":"q","type":"quantitative","scale":{"domain":[0,100]},"axis":null},"y":{"field":"t","type":"quantitative","scale":{"domain":[20,130]},"axis":null},"text":{"field":"s"}}},
{"data":{"name":"gw3"},"mark":{"type":"text","fontSize":20,"fontWeight":"bold","angle":-62,"fill":"#fdfdf3","stroke":"#fdfdf3","strokeWidth":10,"strokeJoin":"round"},
"encoding":{"x":{"field":"q","type":"quantitative","scale":{"domain":[0,100]},"axis":null},"y":{"field":"t","type":"quantitative","scale":{"domain":[20,130]},"axis":null},"text":{"field":"s"}}},
{"data":{"name":"gw3"},"mark":{"type":"text","fontSize":20,"fontWeight":"bold","angle":-62,"color":"#141414"},
"encoding":{"x":{"field":"q","type":"quantitative","scale":{"domain":[0,100]},"axis":null},"y":{"field":"t","type":"quantitative","scale":{"domain":[20,130]},"axis":null},"text":{"field":"s"}}},
{"data":{"name":"v3"},"mark":{"type":"text","fontSize":20,"angle":-90,"fill":"#fdfdf3","stroke":"#fdfdf3","strokeWidth":10,"strokeJoin":"round"},
"encoding":{"x":{"field":"q","type":"quantitative","scale":{"domain":[0,100]},"axis":null},"y":{"field":"t","type":"quantitative","scale":{"domain":[20,130]},"axis":null},"text":{"field":"s"}}},
{"data":{"name":"v3"},"mark":{"type":"text","fontSize":20,"angle":-90,"color":"#141414"},
"encoding":{"x":{"field":"q","type":"quantitative","scale":{"domain":[0,100]},"axis":null},"y":{"field":"t","type":"quantitative","scale":{"domain":[20,130]},"axis":null},"text":{"field":"s"}}},
{"data":{"name":"vr3"},"mark":{"type":"text","fontSize":18,"fontWeight":"bold","angle":-90,"color":"#f02838"},
"encoding":{"x":{"field":"q","type":"quantitative","scale":{"domain":[0,100]},"axis":null},"y":{"field":"t","type":"quantitative","scale":{"domain":[20,130]},"axis":null},"text":{"field":"s"}}},
{"data":{"name":"vn3"},"mark":{"type":"text","fontSize":20,"color":"#f02838"},
"encoding":{"x":{"field":"q","type":"quantitative","scale":{"domain":[0,100]},"axis":null},"y":{"field":"t","type":"quantitative","scale":{"domain":[20,130]},"axis":null},"text":{"field":"s"}}},
{"data":{"name":"ne3"},"mark":{"type":"text","fontSize":15,"color":"#f02838"},
"encoding":{"x":{"field":"q","type":"quantitative","scale":{"domain":[0,100]},"axis":null},"y":{"field":"t","type":"quantitative","scale":{"domain":[20,130]},"axis":null},"text":{"field":"s"}}}
]},
{
"width":492,"height":513,
"title":{"text":"PRESSURE ALTITUDE — 14000 FEET","offset":20},
"resolve":{"axis":{"x":"independent","y":"independent"}},
"layer":[
{"data":{"name":"y4"},"mark":{"type":"rect","color":"#f8f31c","blend":"multiply"},
"encoding":{
"x":{"field":"q","type":"quantitative","scale":{"domain":[0,100],"nice":false,"zero":false},"axis":{"orient":"bottom","title":"TORQUE – %Q","tickCount":100,"grid":true,"gridColor":{"condition":{"test":"datum.value % 2 === 0","value":"#1c1c1c"},"value":"#6e7486"},"gridWidth":{"condition":{"test":"datum.value % 10 === 0","value":1.7},"value":0.8},"labelExpr":"datum.value % 10 === 0 ? datum.label : ''","tickOpacity":{"condition":{"test":"datum.value % 10 === 0","value":1},"value":0},"domain":false,"labelOverlap":false,"labelFlush":false,"labelBound":false}},
"x2":{"field":"q2"},
"y":{"field":"t","type":"quantitative","scale":{"domain":[20,130],"nice":false,"zero":false},"axis":{"orient":"left","title":"TRUE AIRSPEED – KNOTS","titlePadding":10,"tickCount":110,"grid":true,"gridColor":{"condition":{"test":"datum.value % 2 === 0","value":"#1c1c1c"},"value":"#6e7486"},"gridWidth":{"condition":{"test":"datum.value % 10 === 0","value":1.7},"value":0.8},"labelExpr":"datum.value % 10 === 0 ? datum.label : ''","tickOpacity":{"condition":{"test":"datum.value % 10 === 0","value":1},"value":0},"domain":false,"labelOverlap":false,"labelFlush":false,"labelBound":false}},
"y2":{"field":"t2"}}},
{"data":{"name":"red4"},"mark":{"type":"rule","color":"#f03040","strokeWidth":3.5},
"encoding":{"x":{"field":"q","type":"quantitative","scale":{"domain":[0,100]},"axis":null},"x2":{"field":"q2"},"y":{"field":"t","type":"quantitative","scale":{"domain":[20,130]},"axis":null},"y2":{"field":"t2"}}},
{"data":{"name":"blk4"},"mark":{"type":"rule","color":"#111","strokeWidth":2.2},
"encoding":{"x":{"field":"q","type":"quantitative","scale":{"domain":[0,100]},"axis":null},"x2":{"field":"q2"},"y":{"field":"t","type":"quantitative","scale":{"domain":[20,130]},"axis":null},"y2":{"field":"t2"}}},
{"data":{"name":"c4"},"mark":{"type":"line","color":"#141414","interpolate":"catmull-rom"},
"encoding":{
"x":{"field":"q","type":"quantitative","scale":{"domain":[0,100]},"axis":{"orient":"top","title":"FUEL FLOW – LB/HOUR","titlePadding":8,"values":[5.5,11.7,18,25.5,33,40.2,47.4,54.1,60.9,66.8,72.7,77.7,82.8],"labelExpr":"indexof([5.5,18,33,47.4,60.9,72.7,82.8], datum.value) < 0 ? '' : ['50','70','90','110','130','150','170'][indexof([5.5,18,33,47.4,60.9,72.7,82.8], datum.value)]","grid":false,"domain":false,"tickSize":6,"labelPadding":1,"labelOverlap":false,"labelFlush":false,"labelBound":false}},
"y":{"field":"t","type":"quantitative","scale":{"domain":[20,130]},"axis":{"orient":"right","title":"INDICATED AIRSPEED – KNOTS","titleAngle":270,"titleBaseline":"top","titlePadding":10,"values":[117.6,106.3,94.6,83.5,72.6,61.5,50,38.4,25.6],"labelExpr":"['100','90','80','70','60','50','40','30','20'][indexof([117.6,106.3,94.6,83.5,72.6,61.5,50,38.4,25.6], datum.value)]","grid":false,"domain":false,"labelOverlap":false,"labelFlush":false,"labelBound":false}},
"detail":{"field":"g"},"order":{"field":"o","type":"quantitative"},
"strokeWidth":{"field":"g","type":"ordinal","scale":{"domain":["2000","2400","2800","3000","3200"],"range":[3.2,1.6,3.2,1.6,3.2]},"legend":null}}},
{"data":{"name":"m4"},"mark":{"type":"line","color":"#141414","strokeWidth":1.6,"interpolate":"catmull-rom"},
"encoding":{"x":{"field":"q","type":"quantitative","scale":{"domain":[0,100]},"axis":null},"y":{"field":"t","type":"quantitative","scale":{"domain":[20,130]},"axis":null},"detail":{"field":"k"},"order":{"field":"o","type":"quantitative"}}},
{"data":{"name":"gl4"},"mark":{"type":"line","color":"#2f8a44","strokeWidth":3.5,"opacity":0.9},
"encoding":{"x":{"field":"q","type":"quantitative","scale":{"domain":[0,100]},"axis":null},"y":{"field":"t","type":"quantitative","scale":{"domain":[20,130]},"axis":null},"detail":{"field":"k"},"order":{"field":"o","type":"quantitative"}}},
{"data":{"name":"h4"},"mark":{"type":"text","fontSize":21,"fill":"#fdfdf3","stroke":"#fdfdf3","strokeWidth":11,"strokeJoin":"round"},
"encoding":{"x":{"field":"q","type":"quantitative","scale":{"domain":[0,100]},"axis":null},"y":{"field":"t","type":"quantitative","scale":{"domain":[20,130]},"axis":null},"text":{"field":"s"}}},
{"data":{"name":"h4"},"mark":{"type":"text","fontSize":21,"color":"#141414"},
"encoding":{"x":{"field":"q","type":"quantitative","scale":{"domain":[0,100]},"axis":null},"y":{"field":"t","type":"quantitative","scale":{"domain":[20,130]},"axis":null},"text":{"field":"s"}}},
{"data":{"name":"r4"},"mark":{"type":"text","fontSize":19,"angle":-58,"fill":"#fdfdf3","stroke":"#fdfdf3","strokeWidth":9,"strokeJoin":"round"},
"encoding":{"x":{"field":"q","type":"quantitative","scale":{"domain":[0,100]},"axis":null},"y":{"field":"t","type":"quantitative","scale":{"domain":[20,130]},"axis":null},"text":{"field":"s"}}},
{"data":{"name":"r4"},"mark":{"type":"text","fontSize":19,"angle":-58,"color":"#141414"},
"encoding":{"x":{"field":"q","type":"quantitative","scale":{"domain":[0,100]},"axis":null},"y":{"field":"t","type":"quantitative","scale":{"domain":[20,130]},"axis":null},"text":{"field":"s"}}},
{"data":{"name":"gw4"},"mark":{"type":"text","fontSize":20,"fontWeight":"bold","angle":-62,"fill":"#fdfdf3","stroke":"#fdfdf3","strokeWidth":10,"strokeJoin":"round"},
"encoding":{"x":{"field":"q","type":"quantitative","scale":{"domain":[0,100]},"axis":null},"y":{"field":"t","type":"quantitative","scale":{"domain":[20,130]},"axis":null},"text":{"field":"s"}}},
{"data":{"name":"gw4"},"mark":{"type":"text","fontSize":20,"fontWeight":"bold","angle":-62,"color":"#141414"},
"encoding":{"x":{"field":"q","type":"quantitative","scale":{"domain":[0,100]},"axis":null},"y":{"field":"t","type":"quantitative","scale":{"domain":[20,130]},"axis":null},"text":{"field":"s"}}},
{"data":{"name":"v4"},"mark":{"type":"text","fontSize":20,"angle":-90,"fill":"#fdfdf3","stroke":"#fdfdf3","strokeWidth":10,"strokeJoin":"round"},
"encoding":{"x":{"field":"q","type":"quantitative","scale":{"domain":[0,100]},"axis":null},"y":{"field":"t","type":"quantitative","scale":{"domain":[20,130]},"axis":null},"text":{"field":"s"}}},
{"data":{"name":"v4"},"mark":{"type":"text","fontSize":20,"angle":-90,"color":"#141414"},
"encoding":{"x":{"field":"q","type":"quantitative","scale":{"domain":[0,100]},"axis":null},"y":{"field":"t","type":"quantitative","scale":{"domain":[20,130]},"axis":null},"text":{"field":"s"}}},
{"data":{"name":"vr4"},"mark":{"type":"text","fontSize":19,"fontWeight":"bold","angle":-90,"color":"#f02838"},
"encoding":{"x":{"field":"q","type":"quantitative","scale":{"domain":[0,100]},"axis":null},"y":{"field":"t","type":"quantitative","scale":{"domain":[20,130]},"axis":null},"text":{"field":"s"}}},
{"data":{"name":"vn4"},"mark":{"type":"text","fontSize":20,"color":"#f02838"},
"encoding":{"x":{"field":"q","type":"quantitative","scale":{"domain":[0,100]},"axis":null},"y":{"field":"t","type":"quantitative","scale":{"domain":[20,130]},"axis":null},"text":{"field":"s"}}},
{"data":{"name":"ne4"},"mark":{"type":"text","fontSize":15,"color":"#f02838"},
"encoding":{"x":{"field":"q","type":"quantitative","scale":{"domain":[0,100]},"axis":null},"y":{"field":"t","type":"quantitative","scale":{"domain":[20,130]},"axis":null},"text":{"field":"s"}}},
{"data":{"name":"gt4"},"mark":{"type":"text","fontSize":20,"color":"#3f9a55","opacity":0.75},
"encoding":{"x":{"field":"q","type":"quantitative","scale":{"domain":[0,100]},"axis":null},"y":{"field":"t","type":"quantitative","scale":{"domain":[20,130]},"axis":null},"text":{"field":"s"}}},
{"data":{"name":"gc4"},"mark":{"type":"point","filled":true,"shape":"circle","size":1600,"color":"#2f7a3e","opacity":1},
"encoding":{"x":{"field":"q","type":"quantitative","scale":{"domain":[0,100]},"axis":null},"y":{"field":"t","type":"quantitative","scale":{"domain":[20,130]},"axis":null}}},
{"data":{"name":"gc4"},"mark":{"type":"text","fontSize":20,"fontWeight":"bold","color":"#e8f0e0"},
"encoding":{"x":{"field":"q","type":"quantitative","scale":{"domain":[0,100]},"axis":null},"y":{"field":"t","type":"quantitative","scale":{"domain":[20,130]},"axis":null},"text":{"field":"s"}}}
]}
],
"config":{
"background":"#fdfdf3",
"font":"DejaVu Sans",
"view":{"stroke":"#111","strokeWidth":3},
"axis":{"labelFont":"DejaVu Sans","labelFontSize":21,"labelColor":"#1a1a1a","titleFont":"DejaVu Sans","titleFontSize":20,"titleFontWeight":"bold","titleColor":"#1a1a1a","tickColor":"#1a1a1a","tickWidth":1.6,"tickSize":7,"labelPadding":3},
"title":{"font":"DejaVu Sans","fontSize":24,"fontWeight":"bold","color":"#1a1a1a","offset":16,"frame":"group","anchor":"middle"},
"text":{"font":"DejaVu Sans"}
}
}
